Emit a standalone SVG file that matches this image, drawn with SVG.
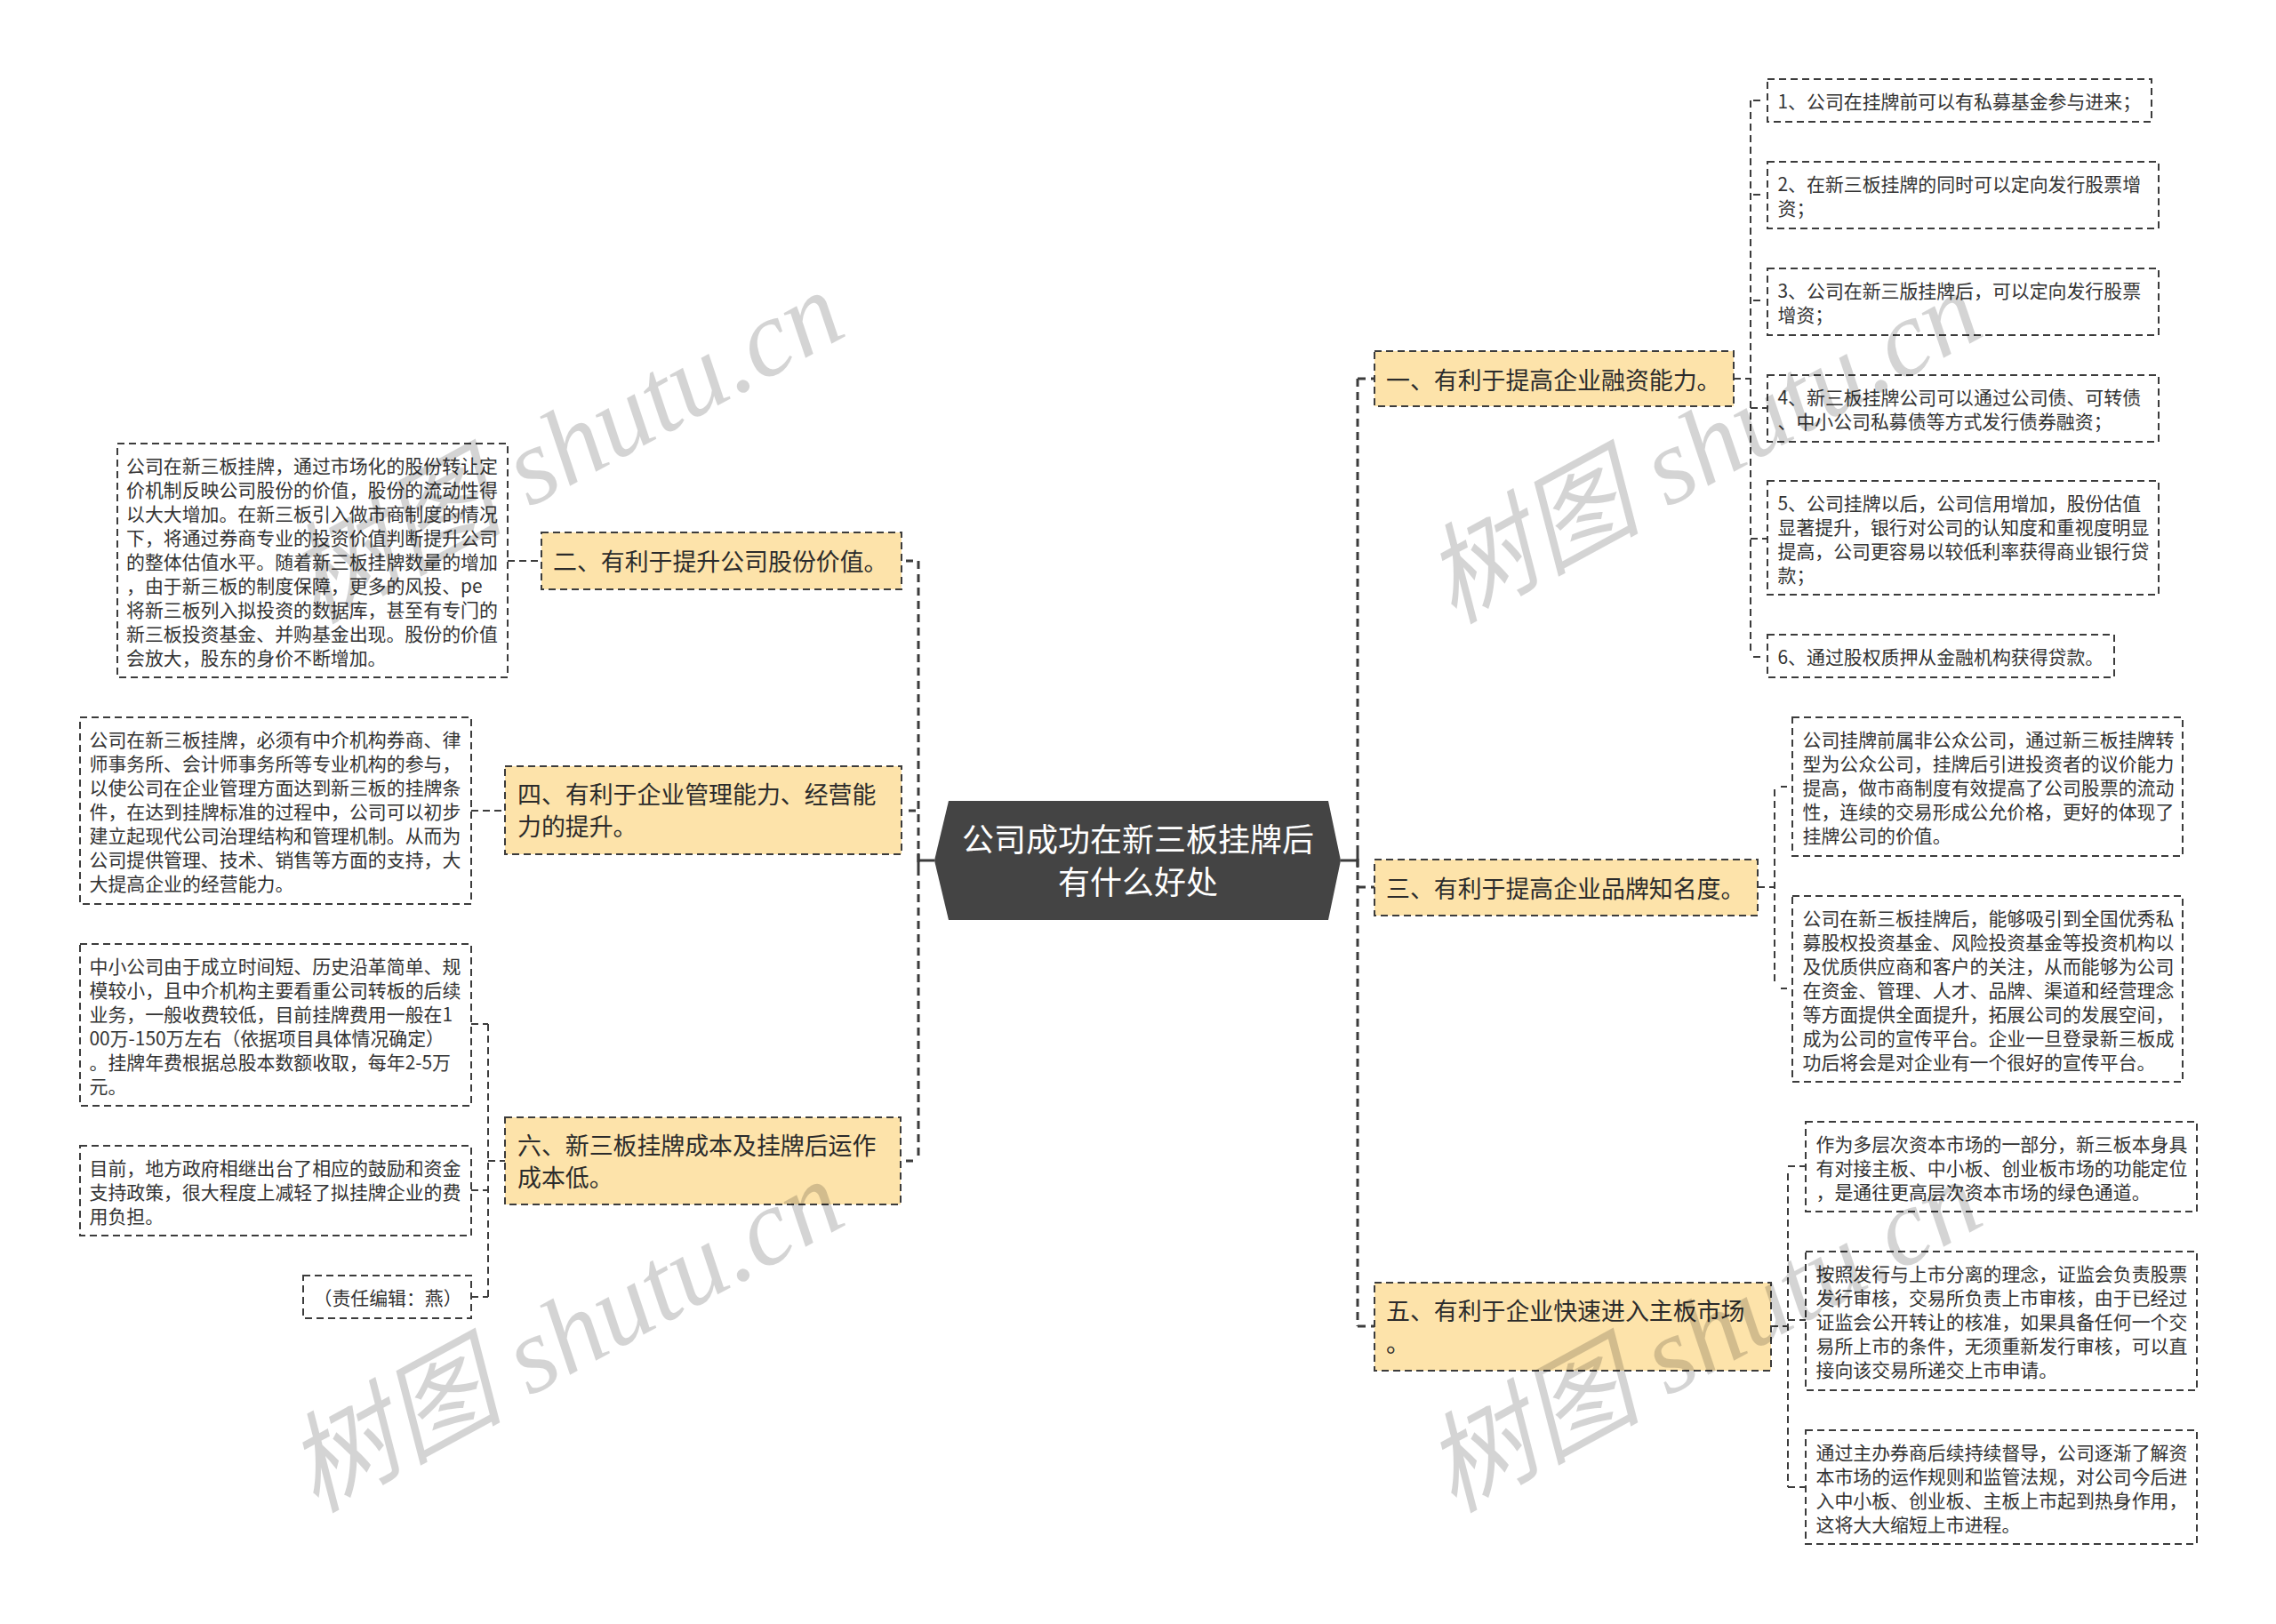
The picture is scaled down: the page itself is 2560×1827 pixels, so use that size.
<svg xmlns="http://www.w3.org/2000/svg" width="2560" height="1827" viewBox="0 0 2560 1827">
<style>
text{font-family:"Noto Sans CJK SC","Liberation Sans",sans-serif;fill:#333}
.s{font-size:20.9px;transform:translate(.5px,1px)}
.m{font-size:26.9px;fill:#2b2b2b;transform:translate(0,.5px)}
.c{font-size:36px;fill:#fff;text-anchor:middle}
.box{fill:#fff;stroke:#3c3c3c;stroke-width:2;stroke-dasharray:8 5}
.top{fill:#fde3aa;stroke:#3c3c3c;stroke-width:2;stroke-dasharray:8 5}
.l{fill:none;stroke:#3c3c3c;stroke-width:2;stroke-dasharray:8 5}
.t{fill:none;stroke:#3c3c3c;stroke-width:3;stroke-dasharray:9 6}
.h{fill:none;stroke:#3c3c3c;stroke-width:3}
.wm{font-family:"Liberation Serif","Noto Sans CJK SC",serif;font-style:italic;font-size:122px;fill:#000;fill-opacity:.17;text-anchor:middle}
</style>
<rect width="2560" height="1827" fill="#fff"/>
<g id="connectors">
<path class="t" d="M1033 631V1303"/>
<path class="t" d="M1527 426V1492"/>
<path class="h" d="M1033 968H1051M1508 968H1527M1033 960V976M1527 960V976"/>
<path class="h" d="M1019 631H1027M1022 912H1030M1019 1306H1027"/>
<path class="t" d="M1527 426H1546M1527 998H1546M1527 1492H1546"/>
<path class="l" d="M1969 113V733"/>
<path class="l" d="M1950 426H1969M1969 459H1988M1969 606H1988"/>
<path class="h" style="stroke-width:2" d="M1972 113H1980M1972 219H1980M1972 338H1980M1972 739H1980"/>
<path class="l" d="M1996 888V1108"/>
<path class="l" d="M1977 998H1996"/>
<path class="h" style="stroke-width:2" d="M2003 885H2010M2003 1112H2010"/>
<path class="l" d="M2011 1320V1673"/>
<path class="l" d="M1992 1492H2011M2011 1312H2031M2011 1485H2031M2011 1673H2031"/>
<path class="l" d="M571 631H609"/>
<path class="l" d="M530 912H568"/>
<path class="l" d="M549 1152V1459"/>
<path class="l" d="M530 1152H549M530 1339H549M530 1459H549M549 1306H568"/>
</g>
<g id="root"><polygon points="1051,968 1067,901 1494,901 1508,968 1494,1035 1067,1035" fill="#444"/>
<text class="c" x="1280" y="958">公司成功在新三板挂牌后</text><text class="c" x="1280" y="1006">有什么好处</text></g>
<g id="n1"><rect class="top" x="1546" y="395" width="404" height="62"/><text class="m" x="1559" y="437">一、有利于提高企业融资能力。</text></g>
<g id="n2"><rect class="top" x="609" y="599" width="405" height="64"/><text class="m" x="622" y="641">二、有利于提升公司股份价值。</text></g>
<g id="n3"><rect class="top" x="1546" y="967" width="431" height="63"/><text class="m" x="1559" y="1009">三、有利于提高企业品牌知名度。</text></g>
<g id="n4"><rect class="top" x="568" y="862" width="446" height="99"/><text class="m" x="582" y="903">四、有利于企业管理能力、经营能</text><text class="m" x="582" y="939">力的提升。</text></g>
<g id="n5"><rect class="top" x="1546" y="1443" width="446" height="99"/><text class="m" x="1559" y="1484">五、有利于企业快速进入主板市场</text><text class="m" x="1559" y="1520">。</text></g>
<g id="n6"><rect class="top" x="568" y="1257" width="445" height="98"/><text class="m" x="582" y="1298">六、新三板挂牌成本及挂牌后运作</text><text class="m" x="582" y="1334">成本低。</text></g>
<g id="a1"><rect class="box" x="1988" y="89" width="432" height="48"/><text class="s" x="1999" y="121">1、公司在挂牌前可以有私募基金参与进来；</text></g>
<g id="a2"><rect class="box" x="1988" y="182" width="440" height="75"/><text class="s" x="1999" y="214">2、在新三板挂牌的同时可以定向发行股票增<tspan x="1999" dy="27">资；</tspan></text></g>
<g id="a3"><rect class="box" x="1988" y="302" width="440" height="75"/><text class="s" x="1999" y="334">3、公司在新三版挂牌后，可以定向发行股票<tspan x="1999" dy="27">增资；</tspan></text></g>
<g id="a4"><rect class="box" x="1988" y="422" width="440" height="75"/><text class="s" x="1999" y="454">4、新三板挂牌公司可以通过公司债、可转债<tspan x="1999" dy="27">、中小公司私募债等方式发行债券融资；</tspan></text></g>
<g id="a5"><rect class="box" x="1988" y="541" width="440" height="128"/><text class="s" x="1999" y="573">5、公司挂牌以后，公司信用增加，股份估值<tspan x="1999" dy="27">显著提升，银行对公司的认知度和重视度明显</tspan><tspan x="1999" dy="27">提高，公司更容易以较低利率获得商业银行贷</tspan><tspan x="1999" dy="27">款；</tspan></text></g>
<g id="a6"><rect class="box" x="1988" y="714" width="390" height="48"/><text class="s" x="1999" y="746">6、通过股权质押从金融机构获得贷款。</text></g>
<g id="b1"><rect class="box" x="2016" y="807" width="439" height="156"/><text class="s" x="2027" y="839">公司挂牌前属非公众公司，通过新三板挂牌转<tspan x="2027" dy="27">型为公众公司，挂牌后引进投资者的议价能力</tspan><tspan x="2027" dy="27">提高，做市商制度有效提高了公司股票的流动</tspan><tspan x="2027" dy="27">性，连续的交易形成公允价格，更好的体现了</tspan><tspan x="2027" dy="27">挂牌公司的价值。</tspan></text></g>
<g id="b2"><rect class="box" x="2016" y="1008" width="439" height="209"/><text class="s" x="2027" y="1040">公司在新三板挂牌后，能够吸引到全国优秀私<tspan x="2027" dy="27">募股权投资基金、风险投资基金等投资机构以</tspan><tspan x="2027" dy="27">及优质供应商和客户的关注，从而能够为公司</tspan><tspan x="2027" dy="27">在资金、管理、人才、品牌、渠道和经营理念</tspan><tspan x="2027" dy="27">等方面提供全面提升，拓展公司的发展空间，</tspan><tspan x="2027" dy="27">成为公司的宣传平台。企业一旦登录新三板成</tspan><tspan x="2027" dy="27">功后将会是对企业有一个很好的宣传平台。</tspan></text></g>
<g id="c1"><rect class="box" x="2031" y="1262" width="440" height="101"/><text class="s" x="2042" y="1294">作为多层次资本市场的一部分，新三板本身具<tspan x="2042" dy="27">有对接主板、中小板、创业板市场的功能定位</tspan><tspan x="2042" dy="27">，是通往更高层次资本市场的绿色通道。</tspan></text></g>
<g id="c2"><rect class="box" x="2031" y="1408" width="440" height="156"/><text class="s" x="2042" y="1440">按照发行与上市分离的理念，证监会负责股票<tspan x="2042" dy="27">发行审核，交易所负责上市审核，由于已经过</tspan><tspan x="2042" dy="27">证监会公开转让的核准，如果具备任何一个交</tspan><tspan x="2042" dy="27">易所上市的条件，无须重新发行审核，可以直</tspan><tspan x="2042" dy="27">接向该交易所递交上市申请。</tspan></text></g>
<g id="c3"><rect class="box" x="2031" y="1609" width="440" height="128"/><text class="s" x="2042" y="1641">通过主办券商后续持续督导，公司逐渐了解资<tspan x="2042" dy="27">本市场的运作规则和监管法规，对公司今后进</tspan><tspan x="2042" dy="27">入中小板、创业板、主板上市起到热身作用，</tspan><tspan x="2042" dy="27">这将大大缩短上市进程。</tspan></text></g>
<g id="d1"><rect class="box" x="132" y="499" width="439" height="263"/><text class="s" x="141.5" y="531">公司在新三板挂牌，通过市场化的股份转让定<tspan x="141.5" dy="27">价机制反映公司股份的价值，股份的流动性得</tspan><tspan x="141.5" dy="27">以大大增加。在新三板引入做市商制度的情况</tspan><tspan x="141.5" dy="27">下，将通过券商专业的投资价值判断提升公司</tspan><tspan x="141.5" dy="27">的整体估值水平。随着新三板挂牌数量的增加</tspan><tspan x="141.5" dy="27">，由于新三板的制度保障，更多的风投、pe</tspan><tspan x="141.5" dy="27">将新三板列入拟投资的数据库，甚至有专门的</tspan><tspan x="141.5" dy="27">新三板投资基金、并购基金出现。股份的价值</tspan><tspan x="141.5" dy="27">会放大，股东的身价不断增加。</tspan></text></g>
<g id="e1"><rect class="box" x="90" y="807" width="440" height="210"/><text class="s" x="100" y="839">公司在新三板挂牌，必须有中介机构券商、律<tspan x="100" dy="27">师事务所、会计师事务所等专业机构的参与，</tspan><tspan x="100" dy="27">以使公司在企业管理方面达到新三板的挂牌条</tspan><tspan x="100" dy="27">件，在达到挂牌标准的过程中，公司可以初步</tspan><tspan x="100" dy="27">建立起现代公司治理结构和管理机制。从而为</tspan><tspan x="100" dy="27">公司提供管理、技术、销售等方面的支持，大</tspan><tspan x="100" dy="27">大提高企业的经营能力。</tspan></text></g>
<g id="f1"><rect class="box" x="90" y="1062" width="440" height="182"/><text class="s" x="100" y="1094">中小公司由于成立时间短、历史沿革简单、规<tspan x="100" dy="27">模较小，且中介机构主要看重公司转板的后续</tspan><tspan x="100" dy="27">业务，一般收费较低，目前挂牌费用一般在1</tspan><tspan x="100" dy="27">00万-150万左右（依据项目具体情况确定）</tspan><tspan x="100" dy="27">。挂牌年费根据总股本数额收取，每年2-5万</tspan><tspan x="100" dy="27">元。</tspan></text></g>
<g id="f2"><rect class="box" x="90" y="1289" width="440" height="101"/><text class="s" x="100" y="1321">目前，地方政府相继出台了相应的鼓励和资金<tspan x="100" dy="27">支持政策，很大程度上减轻了拟挂牌企业的费</tspan><tspan x="100" dy="27">用负担。</tspan></text></g>
<g id="f3"><rect class="box" x="341" y="1435" width="189" height="48"/><text class="s" x="352" y="1467">（责任编辑：燕）</text></g>
<g id="watermarks">
<text class="wm" x="655" y="539" transform="rotate(-28.5 655 539)">树图 shutu.cn</text>
<text class="wm" x="1935" y="539" transform="rotate(-28.5 1935 539)">树图 shutu.cn</text>
<text class="wm" x="655" y="1539" transform="rotate(-28.5 655 1539)">树图 shutu.cn</text>
<text class="wm" x="1935" y="1539" transform="rotate(-28.5 1935 1539)">树图 shutu.cn</text>
</g>
</svg>
